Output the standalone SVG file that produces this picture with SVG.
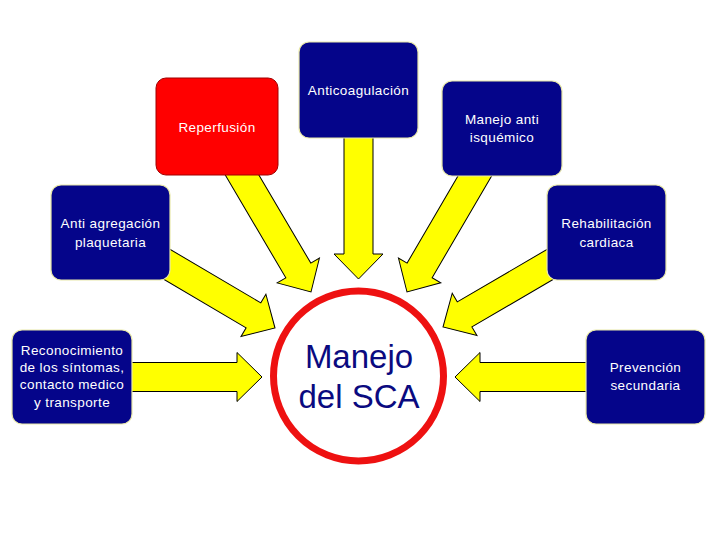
<svg xmlns="http://www.w3.org/2000/svg" xmlns:xlink="http://www.w3.org/1999/xlink" width="720" height="540" viewBox="0 0 720 540">
<style>
.box{fill:#05058a;stroke:#e8e8a8;stroke-width:1.2}
.red{fill:#ff0000;stroke:#a00000;stroke-width:1}
.lbl{font-family:"Liberation Sans",Arial,sans-serif;font-size:13.5px;fill:#ffffff;text-anchor:middle;letter-spacing:0.4px}
.arrow{fill:#ffff00;stroke:#000000;stroke-width:1;stroke-linejoin:miter}
.big{font-family:"Liberation Sans",Arial,sans-serif;font-size:33px;fill:#0a0a80;text-anchor:middle}
</style>
<defs>
<path id="arr" d="M-160,-14.5 L-25,-14.5 L-25,-24.5 L0,0 L-25,24.5 L-25,14.5 L-160,14.5 Z"/>
</defs>
<rect width="720" height="540" fill="#ffffff"/>
<g id="connectors">
<use xlink:href="#arr" class="arrow" transform="translate(358.5,279) rotate(90)"/>
<use xlink:href="#arr" class="arrow" transform="translate(311,292) rotate(59.5)"/>
<use xlink:href="#arr" class="arrow" transform="translate(407,292) rotate(120.3)"/>
<use xlink:href="#arr" class="arrow" transform="translate(275,328) rotate(30.5)"/>
<use xlink:href="#arr" class="arrow" transform="translate(443,327) rotate(149.7)"/>
<use xlink:href="#arr" class="arrow" transform="translate(262,377)"/>
<use xlink:href="#arr" class="arrow" transform="translate(455,377) rotate(180)"/>
</g>
<g id="center">
<circle cx="358.5" cy="376" r="85" fill="#ffffff" stroke="#ee1111" stroke-width="7"/>
<text class="big" x="359" y="368">Manejo</text>
<text class="big" x="359" y="408">del SCA</text>
</g>
<g id="anticoagulacion">
<rect class="box" x="299" y="42" width="119" height="96" rx="10"/>
<text class="lbl" x="358.5" y="95">Anticoagulación</text>
</g>
<g id="reperfusion">
<rect class="red" x="156" y="78" width="122" height="97" rx="10"/>
<text class="lbl" x="217" y="132">Reperfusión</text>
</g>
<g id="manejo-anti-isquemico">
<rect class="box" x="442" y="81" width="120" height="95" rx="10"/>
<text class="lbl" x="502" y="124">Manejo anti</text>
<text class="lbl" x="502" y="142">isquémico</text>
</g>
<g id="anti-agregacion">
<rect class="box" x="51" y="185" width="119" height="95" rx="10"/>
<text class="lbl" x="110.5" y="228">Anti agregación</text>
<text class="lbl" x="110.5" y="247">plaquetaria</text>
</g>
<g id="rehabilitacion">
<rect class="box" x="547" y="185" width="119" height="95" rx="10"/>
<text class="lbl" x="606.5" y="228">Rehabilitación</text>
<text class="lbl" x="606.5" y="247">cardiaca</text>
</g>
<g id="reconocimiento">
<rect class="box" x="12" y="330" width="120" height="94" rx="10"/>
<text class="lbl" x="72" y="355">Reconocimiento</text>
<text class="lbl" x="72" y="372">de los síntomas,</text>
<text class="lbl" x="72" y="389">contacto medico</text>
<text class="lbl" x="72" y="407">y transporte</text>
</g>
<g id="prevencion">
<rect class="box" x="586" y="330" width="119" height="94" rx="10"/>
<text class="lbl" x="645.5" y="372">Prevención</text>
<text class="lbl" x="645.5" y="390">secundaria</text>
</g>
</svg>
